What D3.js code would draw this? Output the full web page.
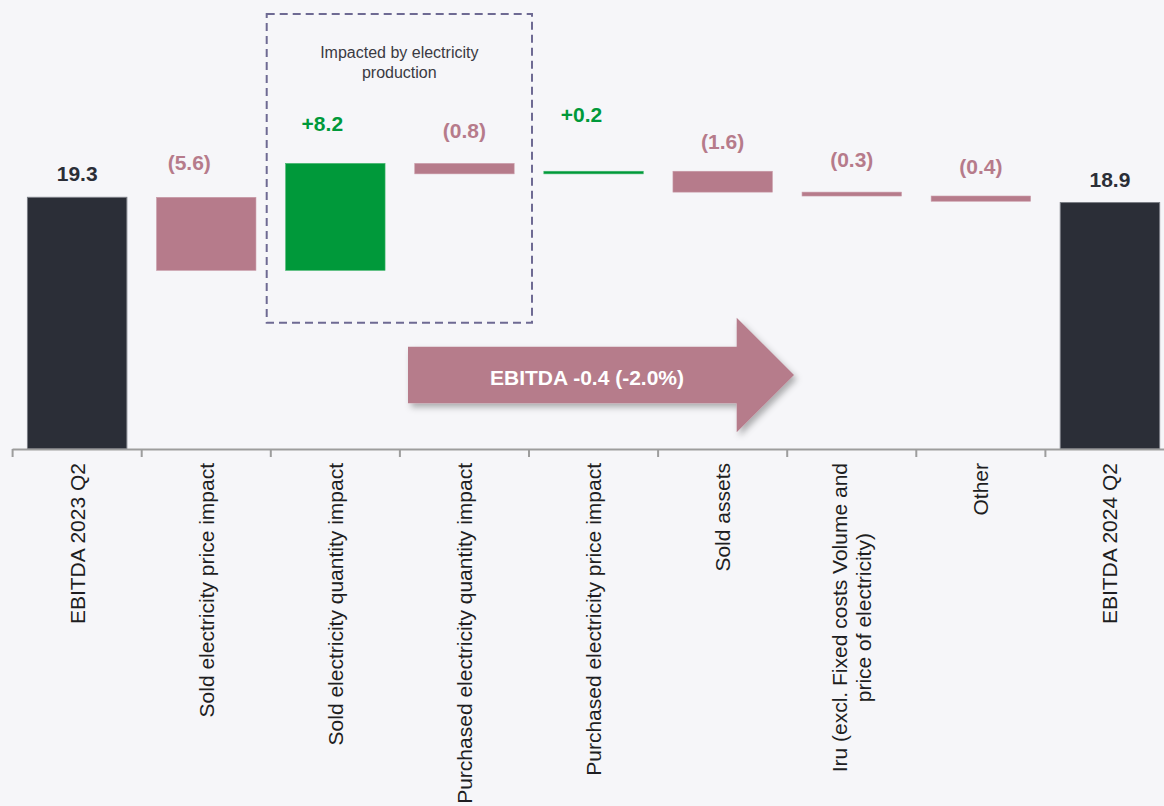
<!DOCTYPE html>
<html><head><meta charset="utf-8">
<script src="https://cdn.jsdelivr.net/npm/d3@7"></script>
<style>
html,body{margin:0;padding:0;background:#f6f6f9;}
svg{display:block;}
text{font-family:"Liberation Sans",Arial,Helvetica,sans-serif;}
</style></head><body>
<svg id="chart" width="1164" height="806"></svg>
<script>
// ---- data ----
const categories = [
  "EBITDA 2023 Q2",
  "Sold electricity price impact",
  "Sold electricity quantity impact",
  "Purchased electricity quantity impact",
  "Purchased electricity price impact",
  "Sold assets",
  "Iru (excl. Fixed costs Volume and\nprice of electricity)",
  "Other",
  "EBITDA 2024 Q2"
];
const kinds = ["total","delta","delta","delta","delta","delta","delta","delta","total"];
const values = [19.3, -5.6, 8.2, -0.8, 0.2, -1.6, -0.3, -0.4, 18.9];
const valueLabels = ["19.3","(5.6)","+8.2","(0.8)","+0.2","(1.6)","(0.3)","(0.4)","18.9"];
const annotationLines = ["Impacted by electricity","production"];
const arrowLabel = "EBITDA -0.4 (-2.0%)";

// ---- layout (pixels, not data) ----
const labelLift  = [16, 27, 32, 25, 49, 22, 25, 22, 16];
const labelShift = [0, -17, -13, 0, -12, 0, 0, 0, 0];

const colors = {total:"#2b2e37", neg:"#b67b8b", pos:"#00993a"};
const strokes = {total:"#7a7d85", neg:"#c99aa7", pos:"#3fb56a"};

const svg = d3.select("#chart");
const W = 1164, H = 806;
const baseY = 449;
const pxPerUnit = 13.04;

const x = d3.scaleBand().domain(categories)
  .range([12.6, 12.6 + 129.1 * categories.length])
  .paddingInner(0.23).paddingOuter(0.115);
const y = d3.scaleLinear().domain([0, 30]).range([baseY, baseY - 30 * pxPerUnit]);
const step = x.step();

// waterfall computation
let run = 0;
const bars = categories.map((c, i) => {
  const v = values[i];
  let y0, y1, type;
  if (kinds[i] === "total") { y0 = 0; y1 = v; run = v; type = "total"; }
  else { y0 = run; y1 = run + v; run = y1; type = v >= 0 ? "pos" : "neg"; }
  return {c, i, y0, y1, type};
});

// dashed annotation box
svg.append("rect")
  .attr("x", 266.7).attr("y", 14).attr("width", 265.3).attr("height", 308.7)
  .attr("fill", "none").attr("stroke", "#6e6a93").attr("stroke-width", 2)
  .attr("stroke-dasharray", "8,5");
svg.append("text").attr("text-anchor", "middle").attr("fill", "#3a3a42")
  .style("font-size", "16px")
  .selectAll("tspan").data(annotationLines).join("tspan")
  .attr("x", 399.3).attr("y", (d, i) => 57.5 + i * 20).text(d => d);

// bars
svg.append("g").selectAll("rect").data(bars).join("rect")
  .attr("x", d => x(d.c))
  .attr("width", x.bandwidth())
  .attr("y", d => y(Math.max(d.y0, d.y1)))
  .attr("height", d => Math.abs(y(d.y0) - y(d.y1)))
  .attr("fill", d => colors[d.type])
  .attr("stroke", d => strokes[d.type])
  .attr("stroke-width", d => d.type === "total" ? 1 : 0.6);

// value labels
svg.append("g").selectAll("text").data(bars).join("text")
  .attr("x", d => x(d.c) + x.bandwidth() / 2 + labelShift[d.i])
  .attr("y", d => y(Math.max(d.y0, d.y1)) - labelLift[d.i])
  .attr("text-anchor", "middle")
  .style("font-size", "21px").style("font-weight", "bold")
  .attr("fill", d => colors[d.type])
  .text(d => valueLabels[d.i]);

// axis line + boundary ticks
const axisG = svg.append("g");
axisG.append("line").attr("x1", 12.6).attr("x2", W).attr("y1", baseY + 0.5).attr("y2", baseY + 0.5)
  .attr("stroke", "#9d9d9d").attr("stroke-width", 2);
axisG.selectAll("line.tick").data(d3.range(categories.length + 1)).join("line")
  .attr("class", "tick")
  .attr("x1", i => x.range()[0] + i * step).attr("x2", i => x.range()[0] + i * step)
  .attr("y1", baseY).attr("y2", baseY + 8)
  .attr("stroke", "#9d9d9d").attr("stroke-width", 2);

// category labels (rotated)
const labG = svg.append("g").selectAll("g").data(categories).join("g")
  .attr("transform", d => `translate(${x(d) + x.bandwidth() / 2},463) rotate(-90)`);
labG.each(function(d) {
  const lines = d.split("\n");
  const t = d3.select(this).append("text")
    .attr("fill", "#1e1e22").style("font-size", "21px");
  const n = lines.length;
  const sp = lines.length > 1 ? 24 : 0;
  const tsp = t.selectAll("tspan").data(lines).join("tspan")
    .attr("x", 0)
    .attr("y", (l, k) => 7.35 + (k - (n - 1) / 2) * sp)
    .text(l => l);
  let maxLen = 0;
  tsp.each(function() { maxLen = Math.max(maxLen, this.getComputedTextLength()); });
  t.attr("text-anchor", "middle");
  tsp.attr("x", -maxLen / 2);
});

// arrow annotation
const defs = svg.append("defs");
const f = defs.append("filter").attr("id", "sh").attr("x", "-10%").attr("y", "-20%").attr("width", "130%").attr("height", "160%");
f.append("feDropShadow").attr("dx", 3).attr("dy", 4).attr("stdDeviation", 3)
  .attr("flood-color", "#000").attr("flood-opacity", 0.3);
const ax0 = 408, axH = 736.7, axT = 794, acy = 375, bh = 28.2, hh = 57.3;
svg.append("path")
  .attr("d", d3.line()([[ax0, acy - bh], [axH, acy - bh], [axH, acy - hh], [axT, acy], [axH, acy + hh], [axH, acy + bh], [ax0, acy + bh]]) + "Z")
  .attr("fill", colors.neg).attr("filter", "url(#sh)");
svg.append("text").attr("x", 587).attr("y", 384.5).attr("text-anchor", "middle")
  .attr("fill", "#ffffff").style("font-size", "21px").style("font-weight", "bold")
  .text(arrowLabel);
</script>
</body></html>
